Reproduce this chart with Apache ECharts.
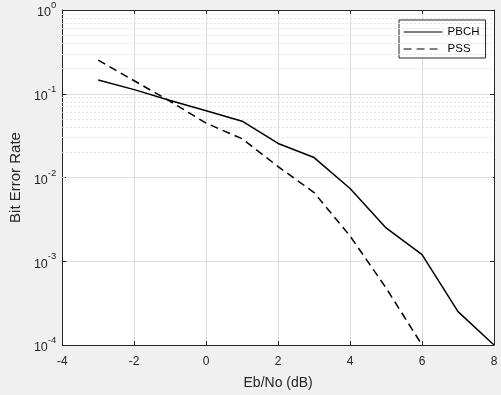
<!DOCTYPE html>
<html>
<head>
<meta charset="utf-8">
<script src="https://cdn.jsdelivr.net/npm/echarts@6/dist/echarts.min.js"></script>
<style>
html,body{margin:0;padding:0;background:#f0f0f0;}
#c{width:501px;height:395px;}
</style>
</head>
<body>
<div id="c"></div>
<script>
var ebno = [-3, -2, -1, 0, 1, 2, 3, 4, 5, 6, 7, 8];
var pbch = [0.146, 0.112, 0.083, 0.0625, 0.047, 0.0255, 0.0173, 0.0074, 0.0025, 0.0012, 0.00025, 0.0001];
var pssX = [-3, -2, -1, 0, 1, 2, 3, 4, 5, 6];
var pss = [0.252, 0.143, 0.081, 0.0445, 0.029, 0.0135, 0.0066, 0.0020, 0.00048, 0.0001];
var xTicks = [-4, -2, 0, 2, 4, 6, 8];
var yDecades = [1e-4, 1e-3, 1e-2, 1e-1, 1];

var minor = [];
for (var n = -4; n < 0; n++) {
  for (var k = 2; k <= 9; k++) minor.push(k * Math.pow(10, n));
}
var axisColor = '#262626';
var font = 'Liberation Sans, Arial, sans-serif';

var chart = echarts.init(document.getElementById('c'), null, {renderer: 'canvas'});
chart.setOption({
  backgroundColor: '#f0f0f0',
  animation: false,
  grid: {left: 62, right: 7, top: 10, bottom: 44, show: true, backgroundColor: '#ffffff', borderWidth: 0},
  legend: {
    orient: 'vertical', left: 399, top: 20,
    backgroundColor: '#ffffff', borderColor: axisColor, borderWidth: 1,
    padding: [6, 6, 3, 4], itemWidth: 39, itemHeight: 10, itemGap: 5,
    itemStyle: {opacity: 0},
    lineStyle: {width: 1.2},
    textStyle: {fontFamily: font, fontSize: 11.5, color: '#000'},
    data: ['PBCH', 'PSS']
  },
  xAxis: [{
    type: 'value', min: -4, max: 8, interval: 2,
    name: 'Eb/No (dB)', nameLocation: 'middle', nameGap: 31,
    nameTextStyle: {fontFamily: font, fontSize: 14, color: axisColor},
    axisLine: {show: true, onZero: false, lineStyle: {color: axisColor, width: 1}},
    axisTick: {show: true, inside: true, length: 4, lineStyle: {color: axisColor}},
    axisLabel: {fontFamily: font, fontSize: 12, color: axisColor, margin: 11,
      formatter: function (v) { return xTicks.indexOf(v) >= 0 ? String(v) : ''; }},
    splitLine: {show: true, lineStyle: {color: '#dcdcdc', width: 1}}
  }, {
    type: 'value', min: -4, max: 8, interval: 2, position: 'top',
    axisLine: {show: true, onZero: false, lineStyle: {color: axisColor, width: 1}},
    axisTick: {show: true, inside: true, length: 4, lineStyle: {color: axisColor}},
    axisLabel: {show: false}, splitLine: {show: false}
  }],
  yAxis: [{
    type: 'log', logBase: 10, min: 1e-4, max: 1,
    name: 'Bit Error Rate', nameLocation: 'middle', nameGap: 38,
    nameTextStyle: {fontFamily: font, fontSize: 15, color: axisColor},
    axisLine: {show: true, onZero: false, lineStyle: {color: axisColor, width: 1}},
    axisTick: {show: true, inside: true, length: 4, lineStyle: {color: axisColor}},
    axisLabel: {
      margin: 6,
      formatter: function (v) {
        var e = Math.round(Math.log10(v));
        return '{b|10}{s|' + e + '}';
      },
      rich: {
        b: {fontFamily: font, fontSize: 12.5, color: axisColor, padding: [6, 0, 0, 0]},
        s: {fontFamily: font, fontSize: 9.5, color: axisColor, verticalAlign: 'top', padding: [0, 0, 6, 0]}
      }
    },
    splitLine: {show: true, lineStyle: {color: '#dcdcdc', width: 1}}
  }, {
    type: 'log', logBase: 10, min: 1e-4, max: 1, position: 'right',
    axisLine: {show: true, onZero: false, lineStyle: {color: axisColor, width: 1}},
    axisTick: {show: true, inside: true, length: 4, lineStyle: {color: axisColor}},
    axisLabel: {show: false}, splitLine: {show: false}
  }],
  series: [{
    name: 'minor', type: 'line', data: [], silent: true, z: 1,
    markLine: {
      silent: true, symbol: ['none', 'none'], label: {show: false},
      lineStyle: {color: '#e0e0e0', type: [2, 2], width: 1},
      data: minor.map(function (v) { return {yAxis: v}; })
    }
  }, {
    name: 'PBCH', type: 'line', showSymbol: false, symbol: 'none', z: 5,
    lineStyle: {color: '#000', width: 1.5, type: 'solid'},
    itemStyle: {color: '#000'},
    data: ebno.map(function (x, i) { return [x, pbch[i]]; })
  }, {
    name: 'PSS', type: 'line', showSymbol: false, symbol: 'none', z: 5,
    lineStyle: {color: '#000', width: 1.5, type: [8, 5]},
    itemStyle: {color: '#000'},
    data: pssX.map(function (x, i) { return [x, pss[i]]; })
  }]
});
</script>
</body>
</html>
